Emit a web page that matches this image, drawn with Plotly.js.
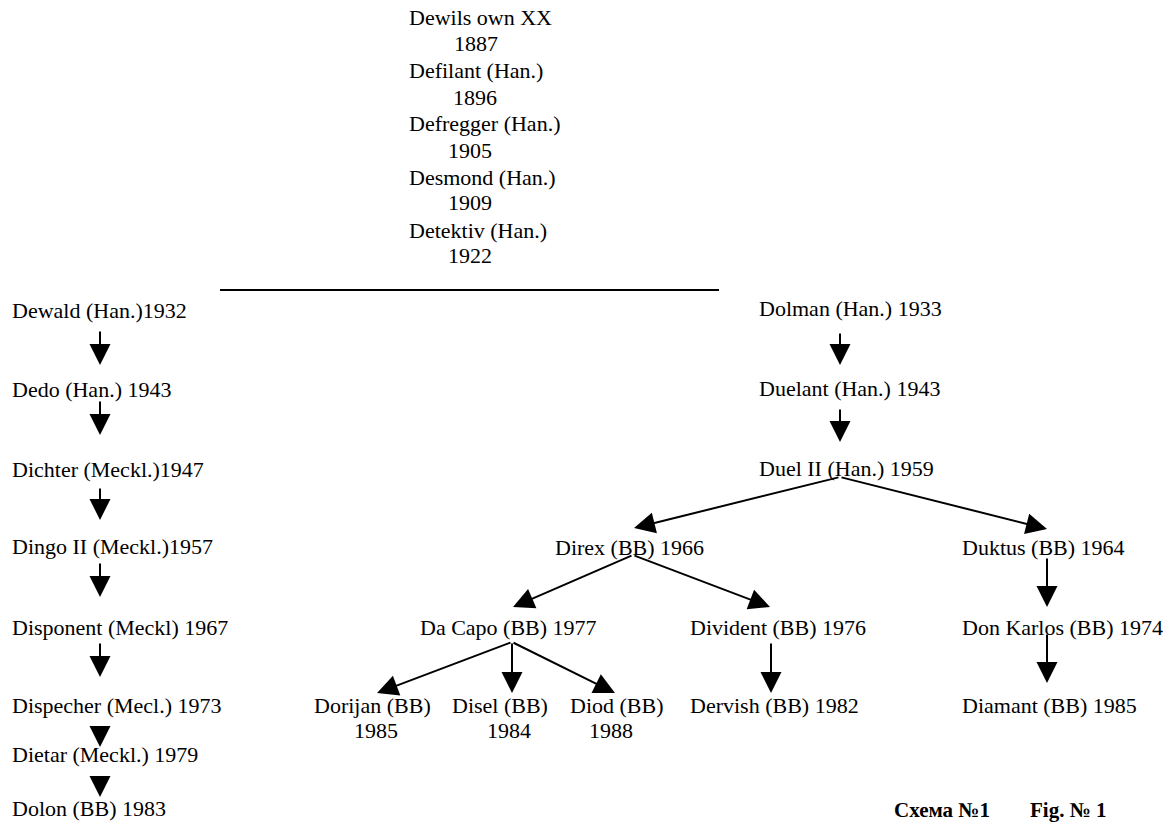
<!DOCTYPE html>
<html>
<head>
<meta charset="utf-8">
<script src="https://cdn.plot.ly/plotly-3.0.1.min.js"></script>
<style>html,body{margin:0;padding:0;background:#fff;}</style>
</head>
<body>
<div id="chart" style="width:1175px;height:825px;"></div>
<script>
// ---- data ----
const ancestorNames = ["Dewils own XX", "Defilant (Han.)", "Defregger (Han.)", "Desmond (Han.)", "Detektiv (Han.)"];
const ancestorYears = ["1887", "1896", "1905", "1909", "1922"];

const leftNames = ["Dewald (Han.)", "Dedo (Han.)", "Dichter (Meckl.)", "Dingo II (Meckl.)", "Disponent (Meckl)", "Dispecher (Mecl.)", "Dietar (Meckl.)", "Dolon (BB)"];
const leftYears = ["1932", "1943", "1947", "1957", "1967", "1973", "1979", "1983"];

const rightNames = ["Dolman (Han.)", "Duelant (Han.)", "Duel II (Han.)", "Direx (BB)", "Duktus (BB)", "Da Capo (BB)", "Divident (BB)", "Don Karlos (BB)", "Dorijan (BB)", "Disel (BB)", "Diod (BB)", "Dervish (BB)", "Diamant (BB)"];
const rightYears = ["1933", "1943", "1959", "1966", "1964", "1977", "1976", "1974", "1985", "1984", "1988", "1982", "1985"];
const rightParents = [-1, 0, 1, 2, 2, 3, 3, 4, 5, 5, 5, 6, 7];

const captionLabels = ["Схема №1", "Fig. № 1"];

// ---- layout (positions in page pixels) ----
const ancestorNameX = 407, ancestorNameY = [17, 70, 123, 177, 230];
const ancestorYearX = [452, 451, 446, 446, 446], ancestorYearY = [43, 97, 150, 202, 255];

const leftJoin = ["", " ", "", "", " ", " ", " ", " "];
const leftTextX = 10;
const leftTextY = [310, 389, 469, 546, 627, 705, 754, 808];
const leftArrowX = 100;
const leftTipY = [null, 365, 435, 520, 597, 677, 747, 797];
const leftOutY = [330, 400, 487, 562, 642, 727, 775, null];

const rightLayout = [
  {x: 757, y: 308, out: [840, 332]},
  {x: 757, y: 388, tip: [840, 365], out: [840, 408]},
  {x: 757, y: 468, tip: [840, 442], out: [840, 477]},
  {x: 553, y: 547, tip: [634, 528], out: [633, 555]},
  {x: 960, y: 547, tip: [1047, 529], out: [1047, 557]},
  {x: 418, y: 627, tip: [513, 607], out: [512, 642]},
  {x: 688, y: 627, tip: [770, 607], out: [771, 642]},
  {x: 960, y: 627, tip: [1047, 607], out: [1047, 633]},
  {x: 312, y: 705, year: [352, 730], tip: [377, 693]},
  {x: 450, y: 705, year: [485, 730], tip: [512, 693]},
  {x: 568, y: 705, year: [587, 730], tip: [615, 693]},
  {x: 688, y: 705, tip: [771, 693]},
  {x: 960, y: 705, tip: [1047, 683]}
];
const captionX = [892, 1028], captionY = 810;

// ---- build ----
const FONT = {family: "Liberation Serif, Times New Roman, serif", size: 22, color: "#000"};
const ann = [];
function label(x, y, text, font) {
  ann.push({x: x, y: y, xref: "x", yref: "y", text: text, showarrow: false,
            xanchor: "left", yanchor: "middle", font: font || FONT});
}
function arrow(from, to) {
  ann.push({x: to[0], y: to[1], ax: from[0], ay: from[1], xref: "x", yref: "y",
            axref: "x", ayref: "y", text: "", showarrow: true, arrowhead: 2,
            arrowsize: 2.1, arrowwidth: 2, arrowcolor: "#000", standoff: 0,
            startstandoff: 0, font: {size: 1}});
}

ancestorNames.forEach((n, i) => {
  label(ancestorNameX, ancestorNameY[i], n);
  label(ancestorYearX[i], ancestorYearY[i], ancestorYears[i]);
});

leftNames.forEach((n, i) => {
  label(leftTextX, leftTextY[i], n + leftJoin[i] + leftYears[i]);
  if (i > 0) arrow([leftArrowX, leftOutY[i - 1]], [leftArrowX, leftTipY[i]]);
});

rightNames.forEach((n, i) => {
  const L = rightLayout[i];
  if (L.year) {
    label(L.x, L.y, n);
    label(L.year[0], L.year[1], rightYears[i]);
  } else {
    label(L.x, L.y, n + " " + rightYears[i]);
  }
  const p = rightParents[i];
  if (p >= 0) arrow(rightLayout[p].out, L.tip);
});

captionLabels.forEach((c, i) => {
  label(captionX[i], captionY, "<b>" + c + "</b>", {family: FONT.family, size: 21, color: "#000"});
});

const layout = {
  width: 1175, height: 825,
  margin: {l: 0, r: 0, t: 0, b: 0, pad: 0},
  paper_bgcolor: "#fff", plot_bgcolor: "#fff",
  showlegend: false,
  xaxis: {range: [0, 1175], visible: false, fixedrange: true},
  yaxis: {range: [825, 0], visible: false, fixedrange: true},
  shapes: [{type: "line", xref: "x", yref: "y", x0: 220, x1: 719, y0: 290, y1: 290,
            line: {color: "#000", width: 2}}],
  annotations: ann
};

Plotly.newPlot("chart", [{type: "scatter", x: [], y: [], mode: "markers", hoverinfo: "skip"}],
  layout, {staticPlot: true, displayModeBar: false});
</script>
</body>
</html>
